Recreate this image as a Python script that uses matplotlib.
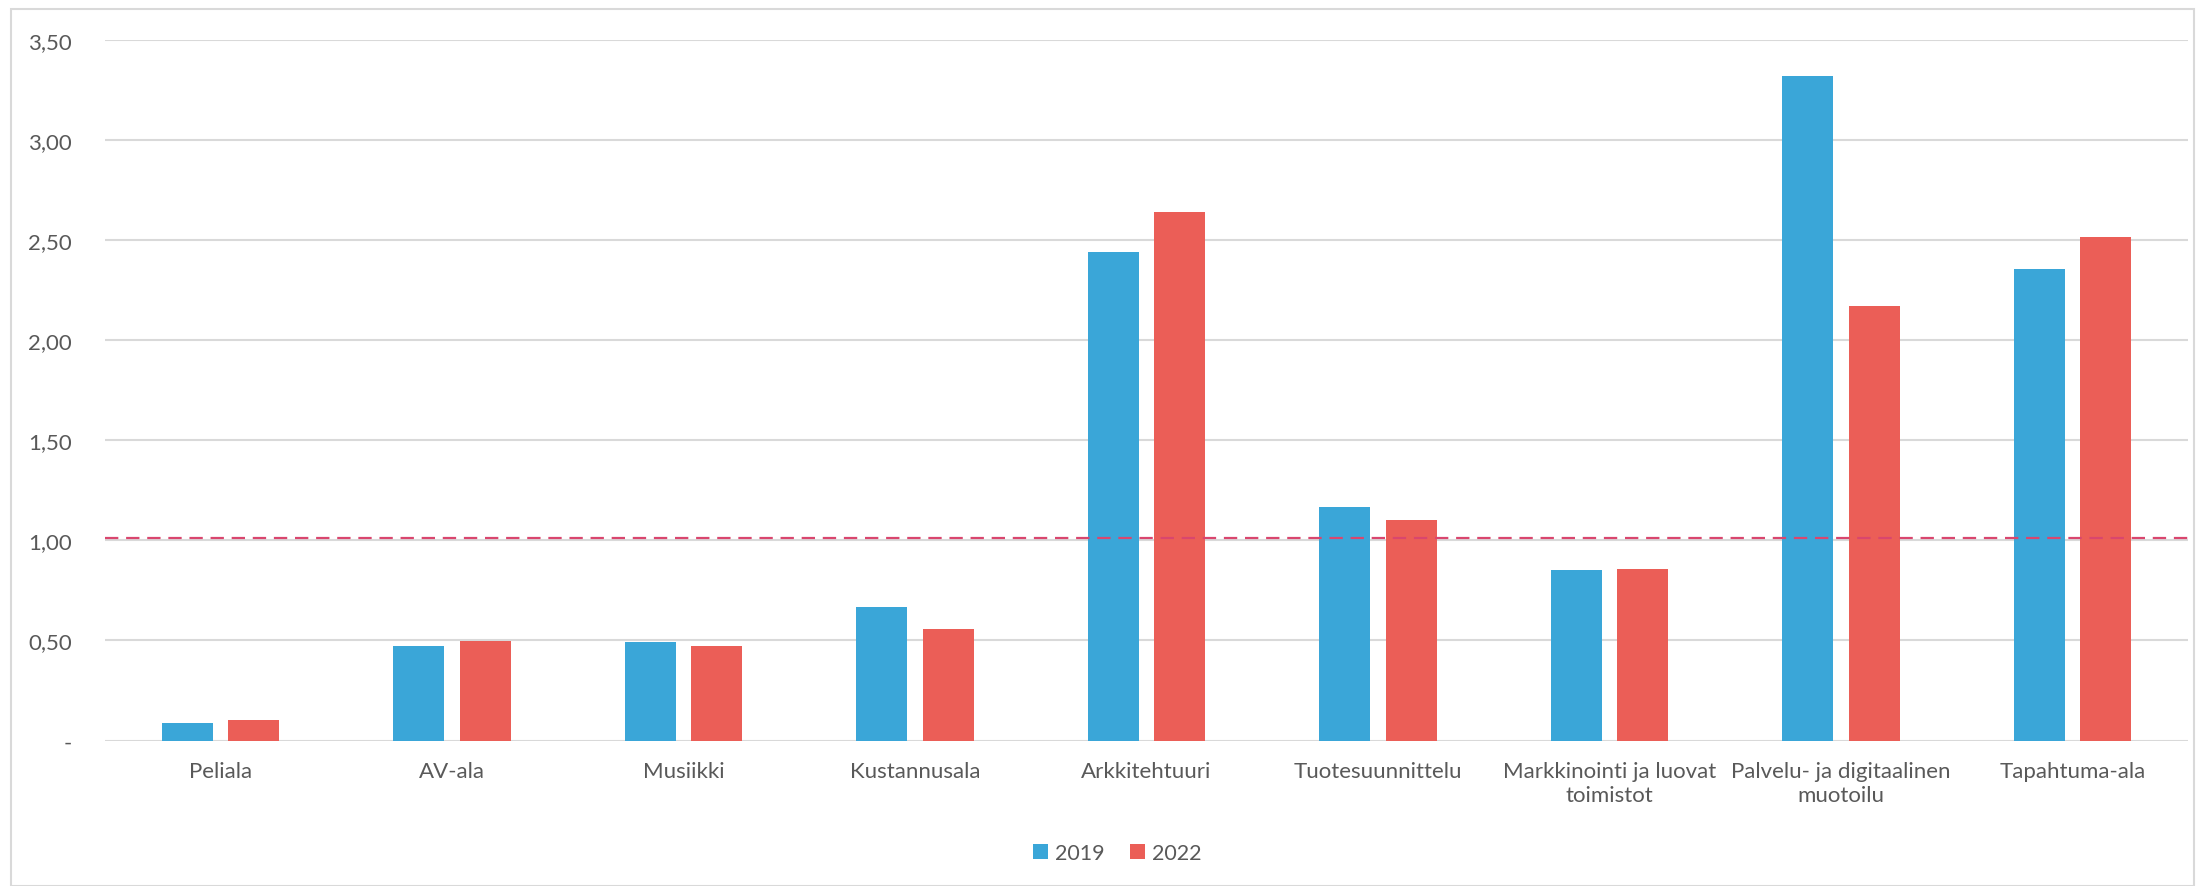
import matplotlib.pyplot as plt
import numpy as np
from matplotlib.patches import Rectangle
from matplotlib.ticker import FuncFormatter

categories = ['Peliala', 'AV-ala', 'Musiikki', 'Kustannusala', 'Arkkitehtuuri',
              'Tuotesuunnittelu', 'Markkinointi ja luovat\ntoimistot',
              'Palvelu- ja digitaalinen\nmuotoilu', 'Tapahtuma-ala']
values_2019 = [0.09, 0.47, 0.49, 0.665, 2.44, 1.165, 0.85, 3.32, 2.355]
values_2022 = [0.105, 0.497, 0.473, 0.555, 2.64, 1.10, 0.857, 2.17, 2.515]
reference_level = 1.01

plt.rcParams['font.family'] = ['Lato', 'DejaVu Sans']
text_color = '#595959'

fig = plt.figure(figsize=(21.98, 8.87), dpi=100)
ax = fig.add_axes([105 / 2198, 1 - 741.6 / 887, (2188 - 105) / 2198, (741.6 - 40.7) / 887])

x = np.arange(len(categories))
width = 0.22
offset = 0.1436
ax.bar(x - offset, values_2019, width, color='#3AA6D8', label='2019', zorder=3)
ax.bar(x + offset, values_2022, width, color='#EB5E57', label='2022', zorder=3)

ax.axhline(reference_level, color='#D9466E', linestyle=(0, (6, 3.5)), linewidth=1.6, zorder=4)

ax.set_xlim(-0.5, len(categories) - 0.5)
ax.set_ylim(0, 3.5)
ax.set_yticks(np.arange(0, 3.51, 0.5))
ax.yaxis.set_major_formatter(FuncFormatter(lambda v, p: '-' if v == 0 else f'{v:.2f}'.replace('.', ',')))
ax.set_xticks(x, categories)
ax.grid(axis='y', color='#D9D9D9', linewidth=1.5, zorder=0)
ax.tick_params(axis='both', length=0, labelsize=16, colors=text_color)
ax.tick_params(axis='y', pad=24)
ax.tick_params(axis='x', pad=15)
for s in ax.spines.values():
    s.set_visible(False)

ax.legend(loc='center', bbox_to_anchor=(1117 / 2198, 1 - 854 / 887), bbox_transform=fig.transFigure,
          ncols=2, frameon=False, fontsize=15.5, labelcolor=text_color,
          handlelength=0.7, handleheight=0.7, handletextpad=0.3, columnspacing=1.2)

fig.patches.append(Rectangle((11 / 2198, 0), (2194 - 11) / 2198, 1 - 10 / 887, transform=fig.transFigure,
                             fill=False, edgecolor='#D9D9D9', linewidth=1.5))

fig.savefig('out.png', dpi=100)
